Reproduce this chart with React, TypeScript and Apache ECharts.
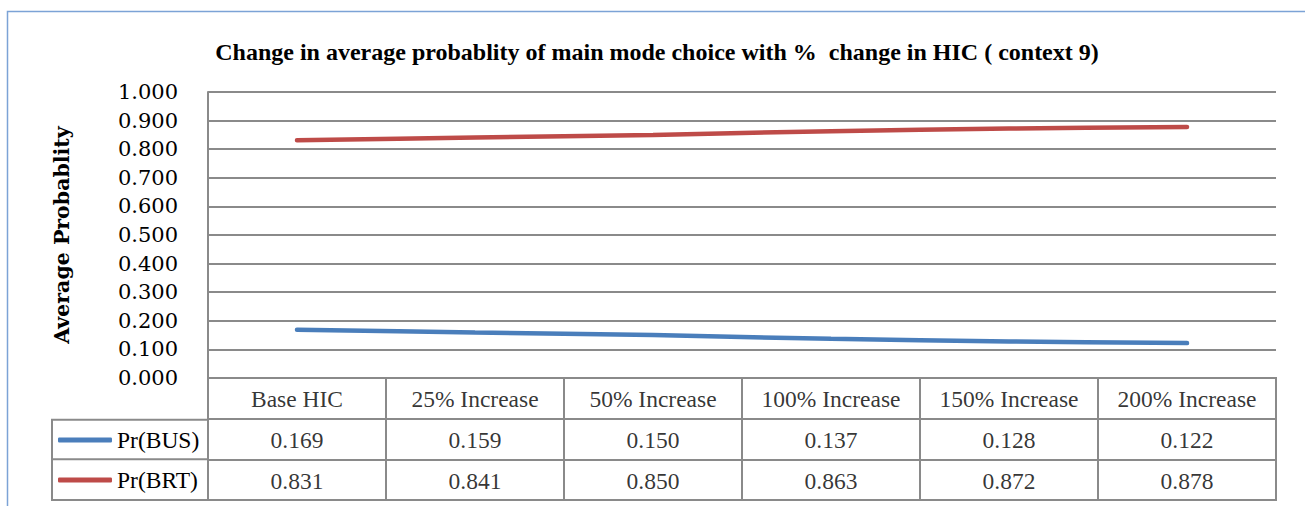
import React, { useEffect, useRef } from "react";
import * as echarts from "echarts";

const titleText = "Change in average probablity of main mode choice with %  change in HIC ( context 9)";
const yAxisName = "Average Probablity";
const categories = ["Base HIC", "25% Increase", "50% Increase", "100% Increase", "150% Increase", "200% Increase"];
const seriesNames = ["Pr(BUS)", "Pr(BRT)"];
const busValues = [0.169, 0.159, 0.15, 0.137, 0.128, 0.122];
const brtValues = [0.831, 0.841, 0.85, 0.863, 0.872, 0.878];

const BLUE = "#4A7EBB";
const RED = "#BE4B48";
const GRIDC = "#8A8A8A";
const SERIF = "'Liberation Serif', 'Times New Roman', serif";
const WIDE_SERIF = "'DejaVu Serif', serif";
const CELL_FS = 23.5;

export default function App() {
  const ref = useRef<HTMLDivElement>(null);
  useEffect(() => {
    if (!ref.current) return;
    const chart = echarts.init(ref.current, null, { renderer: "svg" });
    const cellLabel = (fmt: (p: any) => string) => ({
      show: true,
      position: "inside",
      formatter: fmt,
      color: "#000",
      fontFamily: SERIF,
      fontSize: CELL_FS,
      offset: [0, 1],
    });
    const legendStyle = {
      left: 58,
      padding: 0,
      itemWidth: 54,
      itemHeight: 5,
      icon: "roundRect",
      selectedMode: false,
      textStyle: { fontFamily: SERIF, fontSize: CELL_FS, color: "#000", lineHeight: 24 },
    };
    chart.setOption({
      animation: false,
      backgroundColor: "#fff",
      title: {
        text: titleText,
        left: 652,
        textAlign: "center",
        top: 35,
        textStyle: { fontFamily: SERIF, fontWeight: "bold", fontSize: 24, color: "#000" },
      },
      legend: [
        { ...legendStyle, data: [seriesNames[0]], top: 428 },
        { ...legendStyle, data: [seriesNames[1]], top: 468 },
      ],
      grid: [
        { left: 208, right: 29, top: 92, height: 286, containLabel: false },
        { left: 208, right: 29, top: 378, height: 122, show: true, borderColor: GRIDC, borderWidth: 2, backgroundColor: "transparent" },
      ],
      xAxis: [
        {
          type: "category",
          gridIndex: 0,
          data: categories,
          boundaryGap: true,
          axisLine: { show: false },
          axisTick: { show: false },
          axisLabel: { show: false },
          splitLine: { show: false },
        },
        {
          type: "category",
          gridIndex: 1,
          data: categories,
          boundaryGap: true,
          axisLine: { show: false },
          axisTick: { show: false },
          axisLabel: { show: false },
          splitLine: { show: true, interval: 0, lineStyle: { color: GRIDC, width: 2 } },
        },
      ],
      yAxis: [
        {
          type: "value",
          gridIndex: 0,
          min: 0,
          max: 1,
          interval: 0.1,
          name: yAxisName,
          nameLocation: "middle",
          nameGap: 136,
          nameRotate: 90,
          nameTextStyle: { fontFamily: WIDE_SERIF, fontWeight: "bold", fontSize: 20.5, color: "#000" },
          axisLine: { show: true, lineStyle: { color: GRIDC, width: 2 } },
          axisTick: { show: false },
          axisLabel: {
            margin: 30,
            fontFamily: WIDE_SERIF,
            fontSize: 21,
            color: "#000",
            formatter: (v: number) => v.toFixed(3),
          },
          splitLine: { show: true, lineStyle: { color: GRIDC, width: 2 } },
        },
        {
          type: "value",
          gridIndex: 1,
          min: 0,
          max: 3,
          interval: 1,
          axisLine: { show: false },
          axisTick: { show: false },
          axisLabel: { show: false },
          splitLine: { show: true, lineStyle: { color: GRIDC, width: 2 } },
        },
      ],
      graphic: [
        {
          type: "rect",
          shape: { x: 7.5, y: 11.5, width: 1320, height: 520 },
          style: { fill: "none", stroke: "#7CA3D6", lineWidth: 1.5 },
          silent: true,
          z: 0,
        },
        {
          type: "rect",
          shape: { x: 52, y: 419.7, width: 156, height: 80.3 },
          style: { fill: "none", stroke: GRIDC, lineWidth: 2 },
          silent: true,
        },
        {
          type: "line",
          shape: { x1: 52, y1: 459.3, x2: 208, y2: 459.3 },
          style: { stroke: GRIDC, lineWidth: 2 },
          silent: true,
        },
      ],
      series: [
        {
          name: seriesNames[0],
          type: "line",
          xAxisIndex: 0,
          yAxisIndex: 0,
          data: busValues,
          smooth: 0.3,
          showSymbol: false,
          symbol: "none",
          color: BLUE,
          lineStyle: { color: BLUE, width: 4.5, cap: "round" },
          z: 5,
        },
        {
          name: seriesNames[1],
          type: "line",
          xAxisIndex: 0,
          yAxisIndex: 0,
          data: brtValues,
          smooth: 0.3,
          showSymbol: false,
          symbol: "none",
          color: RED,
          lineStyle: { color: RED, width: 4.5, cap: "round" },
          z: 5,
        },
        {
          name: "header",
          type: "scatter",
          xAxisIndex: 1,
          yAxisIndex: 1,
          symbolSize: 0,
          silent: true,
          data: categories.map((c, i) => [i, 2.5]),
          label: cellLabel((p: any) => categories[p.dataIndex]),
        },
        {
          name: "busRow",
          type: "scatter",
          xAxisIndex: 1,
          yAxisIndex: 1,
          symbolSize: 0,
          silent: true,
          data: busValues.map((v, i) => [i, 1.5]),
          label: cellLabel((p: any) => busValues[p.dataIndex].toFixed(3)),
        },
        {
          name: "brtRow",
          type: "scatter",
          xAxisIndex: 1,
          yAxisIndex: 1,
          symbolSize: 0,
          silent: true,
          data: brtValues.map((v, i) => [i, 0.5]),
          label: cellLabel((p: any) => brtValues[p.dataIndex].toFixed(3)),
        },
      ],
    });
    return () => chart.dispose();
  }, []);
  return (
    <div
      ref={ref}
      style={{ position: "absolute", left: 0, top: 0, width: 1305, height: 506 }}
    />
  );
}
